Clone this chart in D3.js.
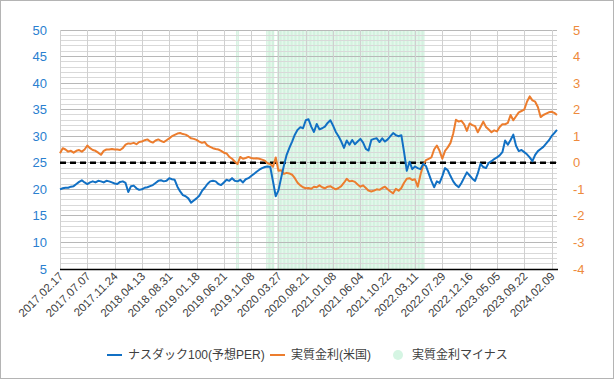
<!DOCTYPE html>
<html><head><meta charset="utf-8">
<script src="https://cdn.jsdelivr.net/npm/d3@7"></script>
<style>
html,body{margin:0;padding:0;background:#fff;}
svg{display:block;font-family:"Liberation Sans","Noto Sans CJK JP",Arial,sans-serif;}
</style></head>
<body>
<svg id="c" width="615" height="380"></svg>
<script>
// x-axis category labels (one every 20 weekly observations)
const tickLabels = ["2017.02.17","2017.07.07","2017.11.24","2018.04.13","2018.08.31","2019.01.18","2019.06.21","2019.11.08","2020.03.27","2020.08.21","2021.01.08","2021.06.04","2021.10.22","2022.03.11","2022.07.29","2022.12.16","2023.05.05","2023.09.22","2024.02.09"];
const weeksPerTick = 20;
const weeksPerSample = 2;
const leftTicks = [5,10,15,20,25,30,35,40,45,50];
const rightTicks = [-4,-3,-2,-1,0,1,2,3,4,5];
const seriesNames = ["ナスダック100(予想PER)","実質金利(米国)","実質金利マイナス"];

// Nasdaq 100 forward PER (sampled every 2 weeks)
const per = [20.0,20.2,20.3,20.3,20.5,20.6,21.0,21.4,21.7,21.3,21.0,21.3,21.5,21.3,21.6,21.5,21.3,21.6,21.5,21.3,
21.1,21.0,21.4,21.5,21.2,19.5,20.6,20.7,20.2,19.9,20.0,20.3,20.4,20.6,20.8,21.2,21.6,21.7,21.5,21.6,
22.1,21.9,21.8,20.5,19.6,18.9,18.7,18.3,17.5,17.9,18.3,18.8,19.7,20.3,21.0,21.5,21.6,21.5,21.0,20.8,
21.3,21.8,21.6,22.1,21.6,21.5,21.8,21.3,21.9,22.1,22.5,22.9,23.3,23.7,24.0,24.2,24.3,24.2,21.5,18.7,
19.8,22.2,24.5,26.5,27.8,29.0,30.3,31.2,31.7,31.5,33.0,33.2,31.8,30.8,32.3,31.3,31.5,31.8,32.5,33.0,
32.0,30.8,30.0,29.0,27.8,29.2,28.4,29.3,28.5,29.0,29.5,28.8,27.6,27.3,29.3,29.5,29.6,28.9,29.6,29.0,
29.4,30.0,30.6,30.2,30.0,30.2,27.0,23.5,25.2,23.8,24.3,24.0,23.8,24.8,24.4,23.0,21.6,20.4,21.5,21.2,
22.5,24.0,23.6,22.5,21.5,20.8,20.4,21.2,22.2,23.2,22.6,22.0,21.6,23.0,24.8,24.2,24.0,25.0,25.3,25.7,
26.0,26.4,27.0,29.2,28.4,29.3,30.3,28.2,27.2,27.4,27.0,26.6,26.0,25.3,26.5,27.2,27.6,28.0,28.6,29.2,
30.0,30.6,31.2];

// US real interest rate (%) (sampled every 2 weeks)
const realRate = [0.36,0.55,0.50,0.42,0.45,0.38,0.45,0.48,0.42,0.50,0.65,0.55,0.48,0.45,0.38,0.30,0.45,0.50,0.50,0.52,
0.50,0.50,0.48,0.55,0.68,0.73,0.72,0.75,0.70,0.78,0.80,0.85,0.88,0.80,0.76,0.84,0.88,0.82,0.78,0.85,
0.92,1.00,1.05,1.10,1.12,1.08,1.06,1.00,0.92,0.90,0.86,0.80,0.75,0.78,0.65,0.60,0.55,0.52,0.50,0.45,
0.38,0.35,0.22,0.15,0.05,-0.05,0.22,0.15,0.18,0.22,0.18,0.16,0.17,0.15,0.12,0.08,-0.02,-0.05,-0.15,0.20,
-0.30,-0.28,-0.42,-0.38,-0.40,-0.45,-0.58,-0.75,-0.85,-0.92,-0.96,-0.95,-0.98,-0.90,-0.92,-0.85,-0.92,-0.96,-0.90,-0.88,
-0.95,-1.00,-0.95,-0.88,-0.75,-0.60,-0.70,-0.68,-0.72,-0.82,-0.90,-0.85,-0.95,-1.05,-1.08,-1.05,-1.00,-1.02,-0.95,-0.90,
-1.00,-1.08,-1.15,-0.98,-1.05,-0.95,-0.75,-0.60,-0.58,-0.65,-0.62,-0.90,-0.45,-0.08,0.10,0.15,0.20,0.50,0.65,0.45,
0.15,0.45,0.58,0.75,1.10,1.62,1.55,1.58,1.45,1.20,1.48,1.42,1.38,1.15,1.35,1.55,1.35,1.25,1.15,1.22,
1.18,1.35,1.45,1.45,1.50,1.80,1.60,1.75,1.90,1.95,2.00,2.30,2.50,2.35,2.30,2.10,1.72,1.80,1.85,1.90,
1.92,1.88,1.80];

const svg = d3.select("#c");
const W = 615, H = 380;
const m = {l:60, r:557, t:30, b:269};
const nWeeks = (per.length - 1) * weeksPerSample;

const x = d3.scaleLinear().domain([0, nWeeks]).range([m.l, m.r]);
const yL = d3.scaleLinear().domain([5, 50]).range([m.b, m.t]);
const yR = d3.scaleLinear().domain([-4, 5]).range([m.b, m.t]);

const blue = "#1170c4", orange = "#ec7d2e";
const blueTxt = "#2a80d0", orangeTxt = "#ee8a3c";

svg.append("rect").attr("x",0.5).attr("y",0.5).attr("width",W-2).attr("height",H-2)
  .attr("fill","#fff").attr("stroke","#b4b4b4");

// shading: weeks with negative real rate
const g = svg.append("g");
const wk = x(1) - x(0);
realRate.forEach((v, i) => {
  if (v < 0) {
    for (let d = -1; d <= 0; d++) {
      const idx = i * weeksPerSample + d + 0.5;
      g.append("rect").attr("x", x(idx) - wk/2).attr("width", wk)
        .attr("y", yL(50)).attr("height", yL(5) - yL(50)).attr("fill", "#e3f8eb");
      g.append("rect").attr("x", x(idx) - 0.3).attr("width", 0.6)
        .attr("y", yL(50)).attr("height", yL(5) - yL(50)).attr("fill", "#c9efd8");
    }
  }
});

// horizontal gridlines
for (let v = 5; v <= 50; v++) {
  const major = v % 5 === 0;
  g.append("line").attr("x1", m.l).attr("x2", m.r).attr("y1", yL(v)).attr("y2", yL(v))
    .attr("stroke", major ? "#b8b8b8" : "#d9d9d9").attr("stroke-width", 1)
    .attr("shape-rendering","crispEdges");
}
// vertical gridlines
tickLabels.forEach((t, j) => {
  const xx = Math.round(x(j * weeksPerTick)) + 0.5;
  g.append("line").attr("x1", xx).attr("x2", xx).attr("y1", yL(50)).attr("y2", yL(5))
    .attr("stroke", "#d0d0d0").attr("stroke-width", 1);
});

// zero line (right axis)
svg.append("line").attr("x1", m.l).attr("x2", m.r).attr("y1", yR(0)).attr("y2", yR(0))
  .attr("stroke", "#000").attr("stroke-width", 2.5).attr("stroke-dasharray", "6,4");

// bottom axis line
svg.append("line").attr("x1", m.l).attr("x2", m.r+1).attr("y1", yL(5)+0.5).attr("y2", yL(5)+0.5)
  .attr("stroke", "#000").attr("stroke-width", 1.3);

// lines
const lineL = d3.line().x((d,i) => x(i*weeksPerSample)).y(d => yL(d));
const lineR = d3.line().x((d,i) => x(i*weeksPerSample)).y(d => yR(d));
svg.append("path").datum(realRate).attr("d", lineR).attr("fill","none")
  .attr("stroke", orange).attr("stroke-width", 2).attr("stroke-linejoin","round");
svg.append("path").datum(per).attr("d", lineL).attr("fill","none")
  .attr("stroke", blue).attr("stroke-width", 2).attr("stroke-linejoin","round");

// left axis labels
svg.append("g").selectAll("text").data(leftTicks).join("text")
  .attr("x", 47).attr("y", d => yL(d)).attr("dy","0.35em").attr("text-anchor","end")
  .attr("font-size", 13).attr("fill", blueTxt).text(d => d);
// right axis labels
svg.append("g").selectAll("text").data(rightTicks).join("text")
  .attr("x", 573).attr("y", d => yR(d)).attr("dy","0.35em").attr("text-anchor","start")
  .attr("font-size", 13).attr("fill", orangeTxt).text(d => d);

// x labels
svg.append("g").selectAll("text").data(tickLabels).join("text")
  .attr("transform", (d,j) => `translate(${x(j*weeksPerTick)+4},${m.b+8}) rotate(-45)`)
  .attr("text-anchor","end").attr("font-size", 11.5).attr("fill", "#404040").text(d => d);

// legend
const lg = svg.append("g").attr("font-size", 12).attr("fill", "#404040");
const ly = 355;
lg.append("line").attr("x1",107).attr("x2",122).attr("y1",ly).attr("y2",ly).attr("stroke",blue).attr("stroke-width",2);
lg.append("text").attr("x",128).attr("y",ly).attr("dy","0.35em").text(seriesNames[0]);
lg.append("line").attr("x1",270).attr("x2",285).attr("y1",ly).attr("y2",ly).attr("stroke",orange).attr("stroke-width",2);
lg.append("text").attr("x",291).attr("y",ly).attr("dy","0.35em").text(seriesNames[1]);
lg.append("circle").attr("cx",398).attr("cy",ly).attr("r",5).attr("fill","#d5f5e3");
lg.append("text").attr("x",412).attr("y",ly).attr("dy","0.35em").text(seriesNames[2]);
</script>
</body></html>
